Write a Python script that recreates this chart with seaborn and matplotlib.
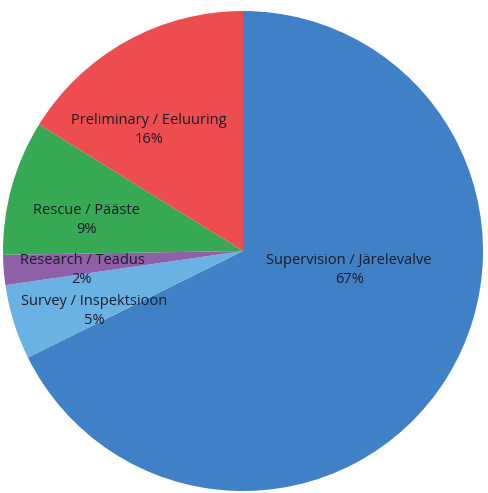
import matplotlib
matplotlib.use("Agg")
import matplotlib.pyplot as plt
import seaborn as sns

categories = ["Supervision / Järelevalve", "Survey / Inspektsioon", "Research / Teadus",
              "Rescue / Pääste", "Preliminary / Eeluuring"]
values = [67, 5, 2, 9, 16]

colors = ["#3F80C6", "#6AB2E3", "#8F5FA8", "#37A853", "#EE4D4F"]
label_pos = [(0.442, -0.079), (-0.621, -0.25), (-0.671, -0.079), (-0.654, 0.129), (-0.392, 0.504)]

sns.set_theme(style="white")
plt.rcParams['font.family'] = ['Open Sans', 'DejaVu Sans']

fig = plt.figure(figsize=(4.88, 4.93), dpi=100)
ax = fig.add_axes([0, 0, 1, 1])
wedges, _ = ax.pie(values, colors=colors, startangle=90, counterclock=False,
                   radius=1.0, wedgeprops=dict(linewidth=0))
ax.set_aspect('auto')
ax.set_xlim(-243 / 240, (488 - 243) / 240)
ax.set_ylim(-(493 - 251) / 240, 251 / 240)
ax.axis('off')

for cat, val, (x, y) in zip(categories, values, label_pos):
    ax.text(x, y, f"{cat}\n{val}%", ha='center', va='center', fontsize=10.5,
            color='#1b1b2b', linespacing=1.3)

fig.savefig("out.png", dpi=100)
